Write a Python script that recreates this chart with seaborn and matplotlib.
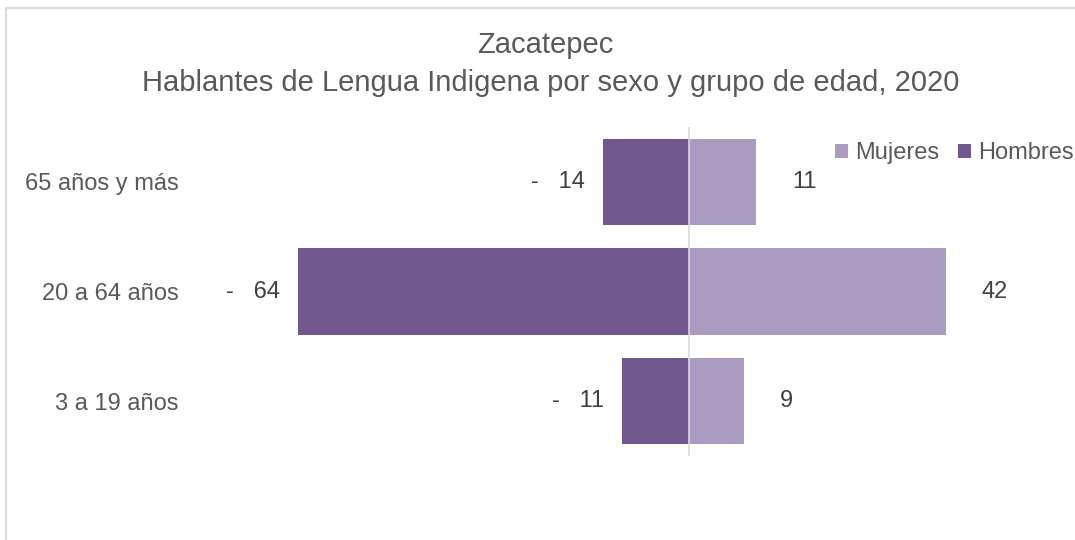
import matplotlib
matplotlib.use("Agg")
import matplotlib.pyplot as plt
import seaborn as sns
import pandas as pd
from matplotlib.patches import Rectangle, Patch

categories = ["65 años y más", "20 a 64 años", "3 a 19 años"]
hombres = [14, 64, 11]
mujeres = [11, 42, 9]
title_lines = ["Zacatepec", "Hablantes de Lengua Indigena por sexo y grupo de edad, 2020"]

c_hom = "#70588E"
c_muj = "#AA9BC0"
txt_dark = "#404040"
txt_gray = "#595959"

sns.set_theme(style="white")
plt.rcParams["font.family"] = ["Liberation Sans", "DejaVu Sans"]

df = pd.DataFrame({"grupo": categories,
                   "Hombres": [-v for v in hombres],
                   "Mujeres": mujeres})

fig = plt.figure(figsize=(10.75, 5.4), dpi=100)
W, H = 1075, 540
ax = fig.add_axes([200 / W, 1 - 456 / H, 855.6 / W, 329 / H])

sns.barplot(data=df, x="Hombres", y="grupo", order=categories, color=c_hom,
            width=0.79, linewidth=0, saturation=1, ax=ax, orient="h")
sns.barplot(data=df, x="Mujeres", y="grupo", order=categories, color=c_muj,
            width=0.79, linewidth=0, saturation=1, ax=ax, orient="h")

ax.set_xlim(-80, 60)
ax.set_ylim(2.5, -0.5)
ax.axvline(0, color="#D9D9D9", lw=1.2, zorder=5)
for s in ax.spines.values():
    s.set_visible(False)
ax.set_xticks([])
ax.set_xlabel("")
ax.set_ylabel("")
ax.tick_params(axis="y", length=0, pad=15.5, labelsize=17, labelcolor=txt_gray)

for i, (h, m) in enumerate(zip(hombres, mujeres)):
    ax.annotate(f"-   {h}", xy=(-h, i), xytext=(-13, 0), textcoords="offset points",
                ha="right", va="center", fontsize=17, color=txt_dark)
    ax.annotate(f"{m}", xy=(m, i), xytext=(26, 0), textcoords="offset points",
                ha="left", va="center", fontsize=17, color=txt_dark)

fig.text(545 / W, 1 - 45 / H, title_lines[0], ha="center", va="center",
         fontsize=21, color=txt_gray)
fig.text(551 / W, 1 - 83 / H, title_lines[1], ha="center", va="center",
         fontsize=21, color=txt_gray)

handles = [Patch(facecolor=c_muj, edgecolor="none", label="Mujeres"),
           Patch(facecolor=c_hom, edgecolor="none", label="Hombres")]
fig.legend(handles=handles, loc="center left", bbox_to_anchor=(835 / W, 1 - 153 / H),
           ncol=2, frameon=False, fontsize=17, handlelength=0.55, handleheight=0.55,
           handletextpad=0.3, columnspacing=0.8, borderpad=0, borderaxespad=0,
           labelcolor=txt_gray)

fig.add_artist(Rectangle((6 / W, -0.1), 1.2, 1 - 8 / H + 0.1, transform=fig.transFigure,
                         fill=False, edgecolor="#D9D9D9", lw=1.5))

fig.savefig("out.png", dpi=100)
